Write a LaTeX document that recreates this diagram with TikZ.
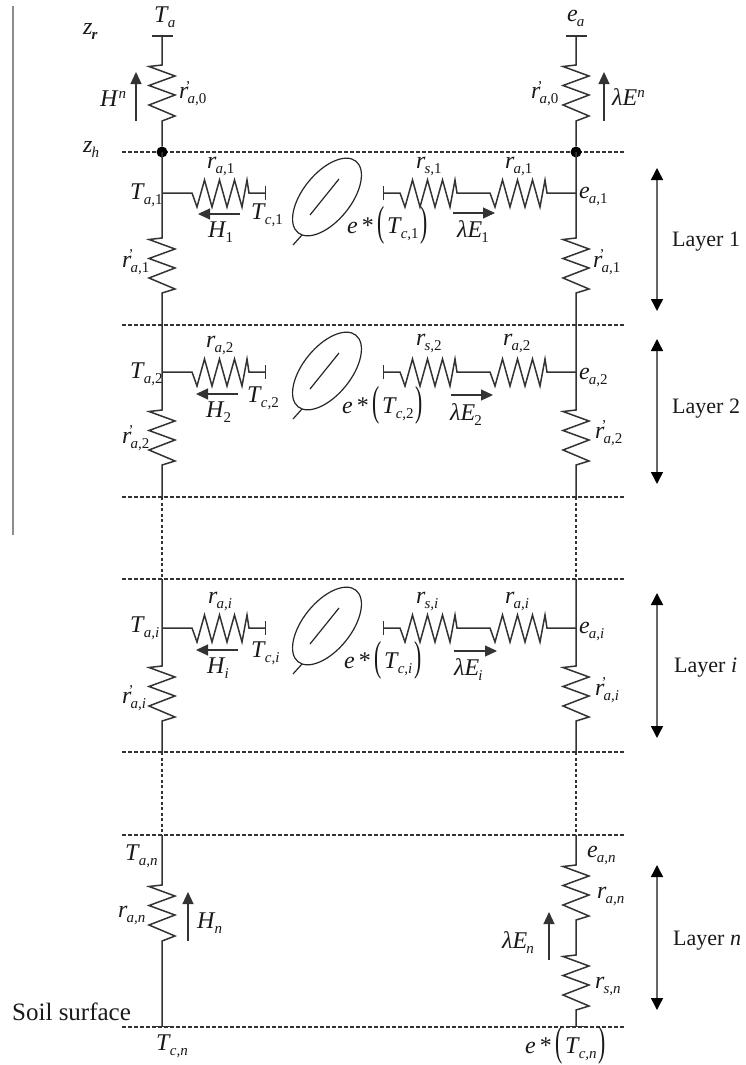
\documentclass[tikz,border=0pt]{standalone}
\usepackage{fontspec}
\setmainfont{Liberation Serif}
\usetikzlibrary{arrows.meta}

\newcommand{\lsub}[2]{\textit{#1}\kern-1pt\raisebox{-5pt}{\fontsize{15}{15}\selectfont\itshape #2}}
\newcommand{\rprime}[1]{\textit{r}\kern-1pt\raisebox{-5pt}{\fontsize{15}{15}\selectfont\itshape \llap{\raisebox{13pt}{\upshape'}\kern-3pt}#1}}
\newcommand{\satur}[1]{\textit{e}\kern4pt*\kern4pt\raisebox{-2pt}{\scalebox{.9}[1.75]{(}}\kern2pt\lsub{T}{#1}\kern2pt\raisebox{-2pt}{\scalebox{.9}[1.75]{)}}}

\tikzset{
	lbl/.style={anchor=base west, inner sep=0pt, text=black!90, font=\fontsize{24}{26}\selectfont},
	lay/.style={lbl, font=\fontsize{22}{24}\selectfont},
	wire/.style={line width=1.5pt, black!80},
	dashline/.style={line width=1.2pt, black!80, dash pattern=on 4pt off 2pt},
	gapline/.style={line width=1.2pt, black!80, dash pattern=on 3pt off 2.5pt},
	flow/.style={line width=1.2pt, black!80, -{Triangle[length=12pt,width=11pt]}},
	layerspan/.style={line width=1.5pt, black!60, {Triangle[black,length=12pt,width=12pt]}-{Triangle[black,length=12pt,width=12pt]}},
	vres/.style={to path={-- ++(-13,1.5) -- ++(26,9.5) -- ++(-26,9.5) -- ++(26,9.5) -- ++(-26,10) -- ++(26,11) -- (\tikztotarget)}},
	hres/.style={to path={-- ++(5,14) -- ++(7.5,-27) -- ++(7.5,27) -- ++(7.5,-27) -- ++(7.5,27) -- ++(7.5,-27) -- ++(7.5,27) -- ++(5,-27) -- (\tikztotarget)}},
	junction/.style={circle, fill=black, inner sep=0pt, minimum size=11pt},
}

\begin{document}
\begin{tikzpicture}[x=1pt,y=-1pt]
	\useasboundingbox (0,0) rectangle (745,1065);

	% margin rule
	\coordinate (rule0) at (13,6);
	\coordinate (rule1) at (13,535);
	\draw[line width=2pt, black!45] (rule0) -- (rule1);

	% dashed levels
	\foreach \m/\y in {h/152,a/325,b/497,c/579,d/752,e/835,s/1027}{
		\coordinate (dl\m) at (122,\y);
		\coordinate (dr\m) at (625,\y);
		\draw[dashline] (dl\m) -- (dr\m);
	}

	% top of both columns
	\foreach \cx/\c in {162/l,576/r}{
		\coordinate (\c top) at (\cx,35);
		\coordinate (\c res0) at (\cx,65);
		\coordinate (\c res1) at (\cx,121);
		\node[junction] (\c node) at (\cx,152) {};
		\draw[wire, {Bar[width=21pt,line width=2.5pt]}-] (\c top) -- (\c res0) to[vres] (\c res1) -- (\c node);
	}

	% the three drawn layers
	\foreach \n/\yt/\yw/\yr/\yb in {1/152/193/238/325,2/325/372/410/497,i/579/628/666/752}{
		\foreach \cx/\c in {162/l,576/r}{
			\coordinate (\c\n t) at (\cx,\yt);
			\coordinate (\c\n w) at (\cx,\yw);
			\coordinate (\c\n s) at (\cx,\yr);
			\coordinate (\c\n e) at (\cx,\yr+55);
			\coordinate (\c\n b) at (\cx,\yb);
			\draw[wire] (\c\n t) -- (\c\n s) to[vres] (\c\n e) -- (\c\n b);
		}
		\coordinate (la\n) at (192,\yw);
		\coordinate (lb\n) at (249,\yw);
		\coordinate (lc\n) at (266,\yw);
		\draw[wire, -{Bar[width=14pt,line width=1.2pt]}] (l\n w) -- (la\n) to[hres] (lb\n) -- (lc\n);
		\coordinate (ra\n) at (383,\yw);
		\coordinate (rb\n) at (400,\yw);
		\coordinate (rc\n) at (457,\yw);
		\coordinate (rd\n) at (490,\yw);
		\coordinate (re\n) at (547,\yw);
		\draw[wire, {Bar[width=14pt,line width=1.2pt]}-] (ra\n) -- (rb\n) to[hres] (rc\n) -- (rd\n) to[hres] (re\n) -- (r\n w);
	}

	% leaves
	\foreach \yc in {197,371,626}{
		\begin{scope}[shift={(327,\yc)}]
			\draw[line width=1.2pt, black!85] (0,0) ellipse [x radius=46pt, y radius=24pt, rotate=51];
			\draw[line width=1.2pt, black!85] (-17,18) -- (12,-18);
			\draw[line width=1.2pt, black!85] (-34,48) -- (-25,38);
		\end{scope}
	}

	% gaps between layers
	\draw[gapline] (l2b) -- (lit);
	\draw[gapline] (r2b) -- (rit);
	\coordinate (lnt) at (162,835);
	\coordinate (rnt) at (576,835);
	\draw[gapline] (lib) -- (lnt);
	\draw[gapline] (rib) -- (rnt);

	% layer n
	\coordinate (lns) at (162,885);
	\coordinate (lne) at (162,941);
	\coordinate (lnb) at (162,1027);
	\draw[wire, -{Bar[width=21pt,line width=1.5pt]}] (lnt) -- (lns) to[vres] (lne) -- (lnb);
	\coordinate (rns) at (576,865);
	\coordinate (rne) at (576,920);
	\coordinate (rms) at (576,955);
	\coordinate (rme) at (576,1010);
	\coordinate (rnb) at (576,1027);
	\draw[wire, -{Bar[width=21pt,line width=1.5pt]}] (rnt) -- (rns) to[vres] (rne) -- (rms) to[vres] (rme) -- (rnb);

	% fluxes
	\foreach \m/\xa/\ya/\xb/\yb in {Hn/136/121/136/72,En/604/121/604/72,
		Ha/240/214/198/214,Hb/238/394/196/394,Hc/238/650/196/650,
		Ea/453/213/495/213,Eb/451/395/493/395,Ec/454/651/497/651,
		Hs/188/941/188/892,Es/549/960/549/912}{
		\coordinate (f\m a) at (\xa,\ya);
		\coordinate (f\m b) at (\xb,\yb);
		\draw[flow] (f\m a) -- (f\m b);
	}

	% layer spans
	\foreach \m/\ya/\yb in {a/168/311,b/339/484,c/593/738,d/865/1010}{
		\coordinate (s\m a) at (657,\ya);
		\coordinate (s\m b) at (657,\yb);
		\draw[layerspan] (s\m a) -- (s\m b);
	}

	% labels at the top
	\node[lbl] (Ta) at (154,23) {\lsub{T}{a}};
	\node[lbl] (ea) at (567,22) {\lsub{e}{a}};
	\node[lbl] (zr) at (83,35) {\lsub{z}{\bfseries r}};
	\node[lbl] (zh) at (83,152) {\lsub{z}{h}};
	\node[lbl] (Hn) at (100,106) {\textit{H}\raisebox{8pt}{\fontsize{15}{15}\selectfont\itshape n}};
	\node[lbl] (En) at (612,105) {\textit{λE}\raisebox{8pt}{\fontsize{15}{15}\selectfont\itshape n}};
	\node[lbl] (r0l) at (179,99) {\rprime{a,\textup{0}}};
	\node[lbl] (r0r) at (531,99) {\rprime{a,\textup{0}}};

	% labels of layer 1
	\node[lbl] (Ta1) at (130,199) {\lsub{T}{a,\textup{1}}};
	\node[lbl] (ral1) at (207,168) {\lsub{r}{a,\textup{1}}};
	\node[lbl] (Tc1) at (251,219) {\lsub{T}{c,\textup{1}}};
	\node[lbl] (H1) at (208,237) {\lsub{H}{\textup{1}}};
	\node[lbl] (sat1) at (347,233) {\satur{c,\textup{1}}};
	\node[lbl] (rs1) at (416,168) {\lsub{r}{s,\textup{1}}};
	\node[lbl] (rar1) at (505,168) {\lsub{r}{a,\textup{1}}};
	\node[lbl] (E1) at (457,237) {\lsub{λE}{\textup{1}}};
	\node[lbl] (ea1) at (579,198) {\lsub{e}{a,\textup{1}}};
	\node[lbl] (rp1l) at (122,267) {\rprime{a,\textup{1}}};
	\node[lbl] (rp1r) at (593,267) {\rprime{a,\textup{1}}};
	\node[lay] (lay1) at (672,246) {Layer 1};

	% labels of layer 2
	\node[lbl] (Ta2) at (130,378) {\lsub{T}{a,\textup{2}}};
	\node[lbl] (ral2) at (206,347) {\lsub{r}{a,\textup{2}}};
	\node[lbl] (Tc2) at (247,402) {\lsub{T}{c,\textup{2}}};
	\node[lbl] (H2) at (206,417) {\lsub{H}{\textup{2}}};
	\node[lbl] (sat2) at (342,413) {\satur{c,\textup{2}}};
	\node[lbl] (rs2) at (416,345) {\lsub{r}{s,\textup{2}}};
	\node[lbl] (rar2) at (503,345) {\lsub{r}{a,\textup{2}}};
	\node[lbl] (E2) at (450,420) {\lsub{λE}{\textup{2}}};
	\node[lbl] (ea2) at (579,379) {\lsub{e}{a,\textup{2}}};
	\node[lbl] (rp2l) at (122,443) {\rprime{a,\textup{2}}};
	\node[lbl] (rp2r) at (595,438) {\rprime{a,\textup{2}}};
	\node[lay] (lay2) at (672,413) {Layer 2};

	% labels of layer i
	\node[lbl] (Tai) at (130,632) {\lsub{T}{a,i}};
	\node[lbl] (rali) at (208,603) {\lsub{r}{a,i}};
	\node[lbl] (Tci) at (251,657) {\lsub{T}{c,i}};
	\node[lbl] (Hi) at (207,673) {\lsub{H}{i}};
	\node[lbl] (sati) at (344,668) {\satur{c,i}};
	\node[lbl] (rsi) at (416,603) {\lsub{r}{s,i}};
	\node[lbl] (rari) at (505,603) {\lsub{r}{a,i}};
	\node[lbl] (Ei) at (454,675) {\lsub{λE}{i}};
	\node[lbl] (eai) at (579,633) {\lsub{e}{a,i}};
	\node[lbl] (rpil) at (122,703) {\rprime{a,i}};
	\node[lbl] (rpir) at (595,695) {\rprime{a,i}};
	\node[lay] (layi) at (674,672) {Layer \textit{i}};

	% labels of layer n
	\node[lbl] (Tan) at (125,860) {\lsub{T}{a,n}};
	\node[lbl] (rann) at (118,917) {\lsub{r}{a,n}};
	\node[lbl] (Hs) at (197,928) {\lsub{H}{n}};
	\node[lay, font=\fontsize{25}{27}\selectfont] (soil) at (12,1020) {Soil surface};
	\node[lbl] (Tcn) at (156,1050) {\lsub{T}{c,n}};
	\node[lbl] (ean) at (587,857) {\lsub{e}{a,n}};
	\node[lbl] (rarn) at (597,898) {\lsub{r}{a,n}};
	\node[lbl] (Es) at (502,948) {\lsub{λE}{n}};
	\node[lbl] (rsn) at (595,988) {\lsub{r}{s,n}};
	\node[lay] (layn) at (673,945) {Layer \textit{n}};
	\node[lbl] (satn) at (525,1053) {\satur{c,n}};
\end{tikzpicture}
\end{document}
